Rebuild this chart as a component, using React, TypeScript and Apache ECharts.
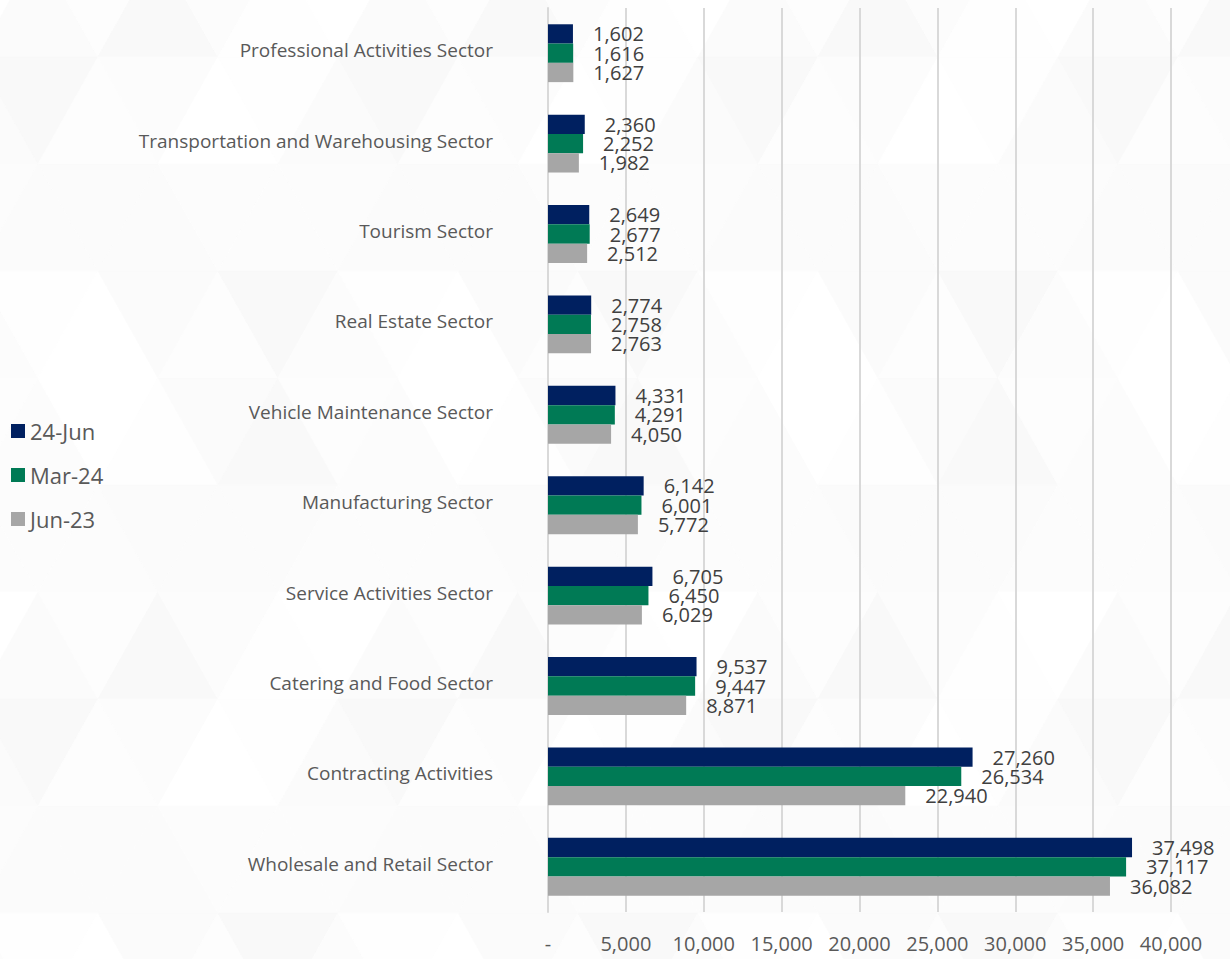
import React, { useEffect, useRef } from "react";
import * as echarts from "echarts";

const categories = [
  "Professional Activities Sector",
  "Transportation and Warehousing Sector",
  "Tourism Sector",
  "Real Estate Sector",
  "Vehicle Maintenance Sector",
  "Manufacturing Sector",
  "Service Activities Sector",
  "Catering and Food Sector",
  "Contracting Activities",
  "Wholesale and Retail Sector",
];
const seriesNames = ["24-Jun", "Mar-24", "Jun-23"];
const jun24 = [1602, 2360, 2649, 2774, 4331, 6142, 6705, 9537, 27260, 37498];
const mar24 = [1616, 2252, 2677, 2758, 4291, 6001, 6450, 9447, 26534, 37117];
const jun23 = [1627, 1982, 2512, 2763, 4050, 5772, 6029, 8871, 22940, 36082];
const colors = ["#002060", "#007A55", "#A6A6A6"];

const FONT = "'Open Sans', 'Noto Sans', sans-serif";
const fmt = (v: number) => (v === 0 ? "-" : v.toLocaleString("en-US"));

// faint triangular background pattern (decoration only)
const TRI_SIDE = 120;
const TRI_H = 107;
const TRI_SHADES = ["#ffffff", "#fbfbfb", "#fdfdfd", "#f9f9f9", "#fcfcfc", "#fefefe"];

function backgroundTriangles() {
  const els: any[] = [];
  const y0 = -50;
  for (let r = 0; r < 10; r++) {
    const top = y0 + r * TRI_H;
    const bot = top + TRI_H;
    const off = (r % 2 === 0 ? 38 : -22) - TRI_SIDE;
    for (let c = 0; c < 24; c++) {
      const xa = off + Math.floor(c / 2) * TRI_SIDE;
      let pts: number[][];
      if (c % 2 === 0) {
        pts = [[xa, top], [xa + TRI_SIDE, top], [xa + TRI_SIDE / 2, bot]];
      } else {
        pts = [[xa + TRI_SIDE / 2, bot], [xa + TRI_SIDE, top], [xa + TRI_SIDE * 1.5, bot]];
      }
      const shade = TRI_SHADES[(r * 5 + c * 7 + ((r * c) % 3)) % TRI_SHADES.length];
      els.push({
        type: "polygon",
        silent: true,
        z: -10,
        shape: { points: pts },
        style: { fill: shade, stroke: shade, lineWidth: 0.8 },
      });
    }
  }
  return els;
}

export default function App() {
  const ref = useRef<HTMLDivElement>(null);
  useEffect(() => {
    if (!ref.current) return;
    const chart = echarts.init(ref.current, undefined, { renderer: "svg" });
    const data = [jun24, mar24, jun23];
    chart.setOption({
      animation: false,
      backgroundColor: "#ffffff",
      textStyle: { fontFamily: FONT },
      graphic: backgroundTriangles(),
      legend: {
        orient: "vertical",
        left: 6,
        top: 415,
        itemWidth: 14,
        itemHeight: 14,
        itemGap: 22,
        icon: "rect",
        textStyle: { fontSize: 22, color: "#595959", fontFamily: FONT },
        data: seriesNames,
      },
      grid: { left: 548, right: 59, top: 8, bottom: 47, containLabel: false },
      xAxis: {
        type: "value",
        min: 0,
        max: 40000,
        interval: 5000,
        axisLine: { show: false },
        axisTick: { show: false },
        splitLine: { show: true, lineStyle: { color: "#d9d9d9", width: 2 } },
        axisLabel: {
          fontSize: 20,
          color: "#595959",
          margin: 21,
          fontFamily: FONT,
          formatter: (v: number) => fmt(v),
        },
      },
      yAxis: {
        type: "category",
        inverse: true,
        data: categories,
        axisLine: { show: true, lineStyle: { color: "#d9d9d9", width: 2 } },
        axisTick: { show: false },
        axisLabel: {
          fontSize: 19,
          color: "#595959",
          margin: 55,
          fontFamily: FONT,
          verticalAlign: "bottom",
          lineHeight: 6,
        },
      },
      series: seriesNames.map((name, i) => ({
        name,
        type: "bar",
        data: data[i],
        barGap: "0%",
        barCategoryGap: "36%",
        itemStyle: { color: colors[i] },
        label: {
          show: true,
          position: "right",
          distance: 20,
          fontSize: 20,
          color: "#404040",
          fontFamily: FONT,
          formatter: (p: any) => fmt(p.value),
        },
      })),
    });
    return () => chart.dispose();
  }, []);
  return (
    <div
      ref={ref}
      style={{ position: "absolute", left: 0, top: 0, width: 1230, height: 959 }}
    />
  );
}
